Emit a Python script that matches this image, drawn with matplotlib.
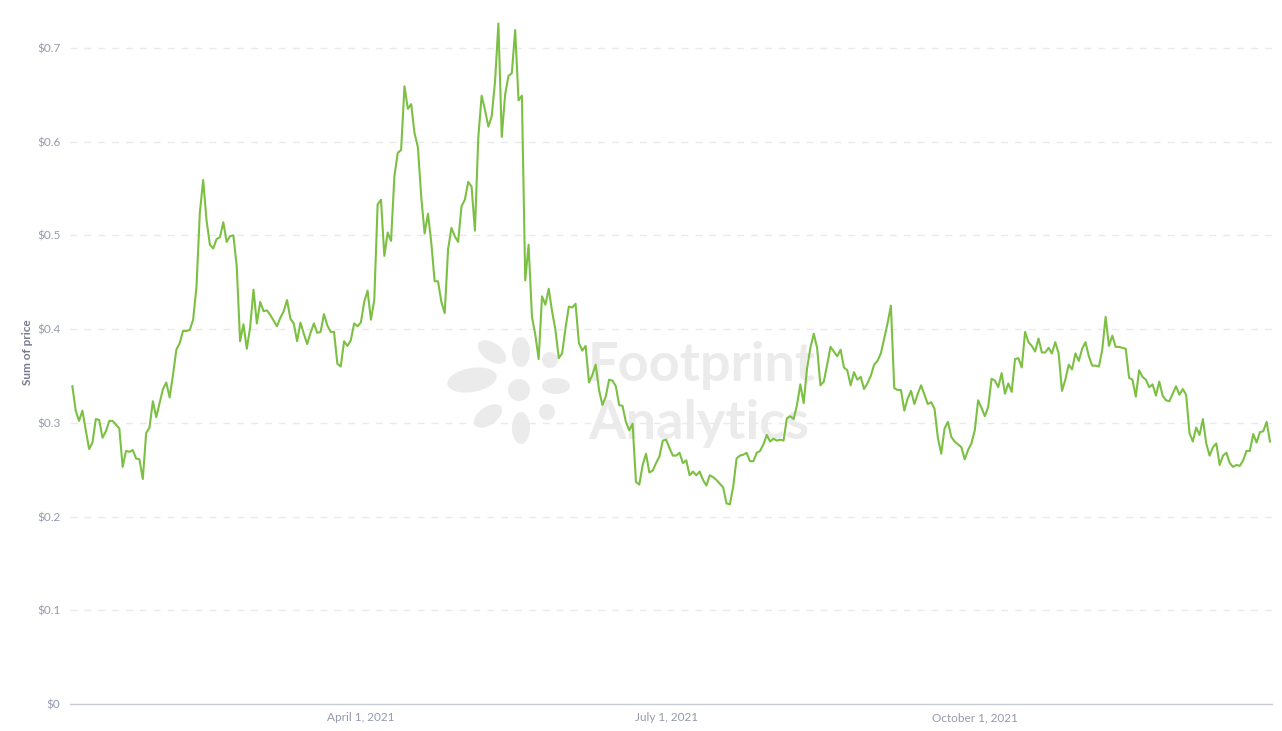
import matplotlib
matplotlib.use("Agg")
import matplotlib.pyplot as plt
import matplotlib.dates as mdates
from matplotlib.patches import Ellipse, Circle
import pandas as pd

plt.rcParams["font.family"] = ["Lato", "DejaVu Sans"]

# ── Data: daily "sum of price" ─────────────────────────────────────────────
START_DATE = "2021-01-05"

prices = [
    # Jan
    0.339, 0.313, 0.302, 0.313, 0.292, 0.272, 0.279, 0.304, 0.303, 0.284,
    0.291, 0.302, 0.302, 0.298, 0.294, 0.253, 0.270, 0.269, 0.271, 0.262,
    0.261, 0.240, 0.289, 0.295, 0.323, 0.306, 0.321, 0.336, 0.343,
    # Feb
    0.327, 0.351, 0.378, 0.385, 0.398, 0.398, 0.399, 0.410, 0.445, 0.524,
    0.559, 0.516, 0.490, 0.486, 0.496, 0.498, 0.514, 0.493, 0.499, 0.500,
    0.467, 0.387, 0.405, 0.379, 0.402, 0.442, 0.406, 0.429,
    # Mar
    0.419, 0.420, 0.415, 0.409, 0.403, 0.412, 0.419, 0.431, 0.411, 0.406,
    0.387, 0.407, 0.395, 0.384, 0.396, 0.406, 0.396, 0.397, 0.416, 0.404,
    0.397, 0.397, 0.363, 0.360, 0.387, 0.382, 0.388, 0.406, 0.403, 0.407,
    0.429, 0.441,
    # Apr
    0.410, 0.431, 0.533, 0.538, 0.478, 0.503, 0.494, 0.563, 0.588, 0.591,
    0.659, 0.635, 0.640, 0.609, 0.594, 0.541, 0.502, 0.523, 0.492, 0.451,
    0.451, 0.429, 0.417, 0.485, 0.508, 0.499, 0.493, 0.531, 0.538, 0.557,
    # May
    0.552, 0.505, 0.604, 0.649, 0.634, 0.616, 0.627, 0.664, 0.726, 0.605,
    0.650, 0.670, 0.673, 0.719, 0.644, 0.649, 0.452, 0.490, 0.413, 0.394,
    0.368, 0.435, 0.426, 0.443, 0.419, 0.399, 0.369, 0.374, 0.401, 0.424,
    # Jun
    0.423, 0.427, 0.385, 0.377, 0.382, 0.343, 0.351, 0.362, 0.335, 0.319,
    0.328, 0.346, 0.345, 0.339, 0.319, 0.318, 0.301, 0.292, 0.299, 0.237,
    0.234, 0.255, 0.267, 0.247, 0.249, 0.257, 0.264, 0.281, 0.282,
    # Jul
    0.273, 0.265, 0.265, 0.268, 0.257, 0.260, 0.244, 0.248, 0.244, 0.248,
    0.239, 0.233, 0.244, 0.242, 0.239, 0.235, 0.231, 0.214, 0.213, 0.232,
    0.262, 0.265, 0.266, 0.268, 0.259, 0.259, 0.268, 0.270, 0.277, 0.287,
    # Aug
    0.280, 0.283, 0.281, 0.282, 0.281, 0.305, 0.307, 0.304, 0.319, 0.341,
    0.321, 0.358, 0.380, 0.395, 0.380, 0.340, 0.344, 0.362, 0.381, 0.376,
    0.371, 0.378, 0.359, 0.356, 0.340, 0.354, 0.346, 0.349, 0.336, 0.342,
    # Sep
    0.350, 0.362, 0.366, 0.374, 0.390, 0.406, 0.425, 0.337, 0.335, 0.335,
    0.313, 0.326, 0.334, 0.320, 0.331, 0.340, 0.330, 0.320, 0.322, 0.315,
    0.284, 0.267, 0.294, 0.301, 0.285, 0.280, 0.277, 0.274, 0.261, 0.271,
    # Oct
    0.278, 0.292, 0.324, 0.316, 0.307, 0.317, 0.347, 0.345, 0.338, 0.353,
    0.331, 0.342, 0.333, 0.368, 0.369, 0.359, 0.397, 0.386, 0.382, 0.376,
    0.390, 0.375, 0.375, 0.380, 0.374, 0.386, 0.374, 0.334, 0.346, 0.362,
    # Nov
    0.357, 0.374, 0.366, 0.379, 0.386, 0.371, 0.361, 0.361, 0.360, 0.378,
    0.413, 0.382, 0.393, 0.381, 0.381, 0.380, 0.379, 0.348, 0.346, 0.328,
    0.356, 0.349, 0.346, 0.338, 0.341, 0.329, 0.344, 0.329, 0.324, 0.323,
    # Dec
    0.331, 0.339, 0.330, 0.336, 0.330, 0.289, 0.280, 0.295, 0.287, 0.304,
    0.278, 0.265, 0.274, 0.278, 0.255, 0.265, 0.268, 0.257, 0.253, 0.255,
    0.254, 0.260, 0.270, 0.270, 0.288, 0.279, 0.290, 0.291, 0.301, 0.280,
]
dates = pd.date_range(START_DATE, periods=len(prices), freq="D")

y_ticks = [0, 0.1, 0.2, 0.3, 0.4, 0.5, 0.6, 0.7]
y_labels = ["$0", "$0.1", "$0.2", "$0.3", "$0.4", "$0.5", "$0.6", "$0.7"]
x_ticks = ["2021-04-01", "2021-07-01", "2021-10-01"]
x_labels = ["April 1, 2021", "July 1, 2021", "October 1, 2021"]

LINE = "#7cc043"
TEXT = "#949aab"
GRID = "#e9eaee"
AXIS = "#c7cbd4"
WM = "#ebebeb"

W, H = 1282, 731
fig = plt.figure(figsize=(W / 100, H / 100), dpi=100)

# ── watermark (pixel coordinates) ─────────────────────────────────────────
wm = fig.add_axes([0, 0, 1, 1], zorder=0)
wm.set_xlim(0, W)
wm.set_ylim(H, 0)
wm.axis("off")
petals = [
    # (cx, cy, width, height, angle)
    (472, 380, 50, 24, -10),
    (492, 352, 32, 18, 35),
    (521, 352, 18, 30, 0),
    (550, 360, 16, 16, 0),
    (556, 386, 28, 16, 0),
    (547, 412, 16, 16, 0),
    (521, 428, 18, 32, 0),
    (488, 416, 32, 18, -35),
]
for cx, cy, w, h, a in petals:
    wm.add_patch(Ellipse((cx, cy), w, h, angle=a, color=WM, lw=0))
wm.add_patch(Circle((519, 390), 11, color=WM, lw=0))
wm.text(588, 366, "Footprint", fontsize=39, fontweight="bold", color=WM,
        ha="left", va="center")
wm.text(588, 424, "Analytics", fontsize=39, fontweight="bold", color=WM,
        ha="left", va="center")

# ── main chart ────────────────────────────────────────────────────────────
ax = fig.add_axes([70 / W, 27 / H, 1202 / W, 703 / H], zorder=1)
ax.set_facecolor("none")
ax.plot(dates, prices, color=LINE, linewidth=1.5, zorder=3)

ax.set_ylim(0, 0.75)
x0 = mdates.date2num(dates[0]) - 0.7
x1 = mdates.date2num(dates[-1]) + 0.6
ax.set_xlim(x0, x1)

ax.set_yticks(y_ticks)
ax.set_yticklabels(y_labels)
ax.set_xticks(pd.to_datetime(x_ticks))
ax.set_xticklabels(x_labels)

for v in y_ticks[1:]:
    ax.axhline(v, color=GRID, linewidth=1, linestyle=(0, (5, 5)), zorder=1)

for s in ["top", "right", "left"]:
    ax.spines[s].set_visible(False)
ax.spines["bottom"].set_color(AXIS)
ax.spines["bottom"].set_linewidth(1)

ax.tick_params(axis="y", length=0, pad=7, labelsize=8.5, labelcolor=TEXT)
ax.tick_params(axis="x", length=0, pad=6, labelsize=8.5, labelcolor=TEXT)

ax.set_ylabel("Sum of price", fontsize=8.5, fontweight="bold", color="#757b8c",
              labelpad=3)

fig.savefig("out.png", dpi=100)
